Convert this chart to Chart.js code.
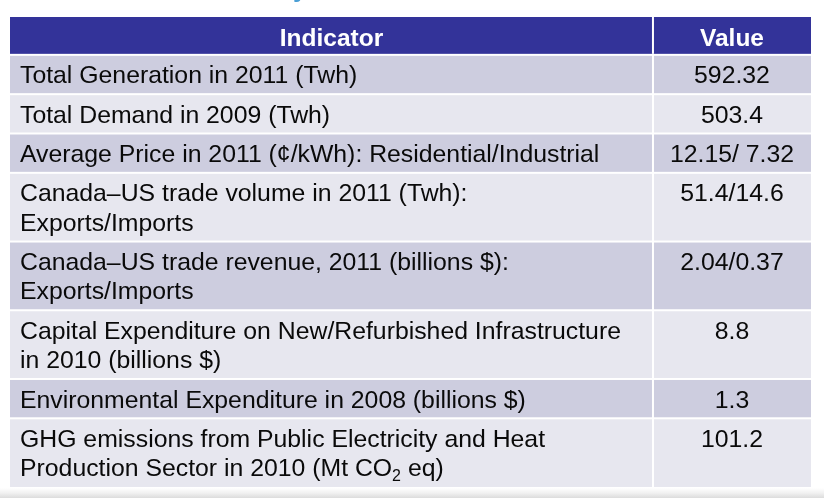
<!DOCTYPE html>
<html><head><meta charset="utf-8">
<script src="https://cdn.jsdelivr.net/npm/chart.js@4"></script>
<style>html,body{margin:0;padding:0;background:#fff;overflow:hidden}#wrap{width:824px;height:498px;position:relative}</style>
</head><body><div id="wrap"><canvas id="c" width="824" height="498"></canvas></div>
<script>
// ---- data ----
const headers = ['Indicator', 'Value'];
const indicators = [
  ['Total Generation in 2011 (Twh)'],
  ['Total Demand in 2009 (Twh)'],
  ['Average Price in 2011 (¢/kWh): Residential/Industrial'],
  ['Canada–US trade volume in 2011 (Twh):', 'Exports/Imports'],
  ['Canada–US trade revenue, 2011 (billions $):', 'Exports/Imports'],
  ['Capital Expenditure on New/Refurbished Infrastructure', 'in 2010 (billions $)'],
  ['Environmental Expenditure in 2008 (billions $)'],
  ['GHG emissions from Public Electricity and Heat', 'Production Sector in 2010 (Mt CO₂ eq)']
];
const values = ['592.32', '503.4', '12.15/ 7.32', '51.4/14.6', '2.04/0.37', '8.8', '1.3', '101.2'];

// ---- layout (units of the y scale) ----
const HEADER_H = 38, PAD = 5, LINE = 29.5;
const COL_SPLIT = 0.8027;
const rowH = indicators.map(l => PAD * 2 + LINE * l.length);
const rowTop = [];
let acc = HEADER_H;
rowH.forEach(h => { rowTop.push(acc); acc += h; });
const TOTAL = acc;

const HEAD_BG = '#333399', DARK = '#CDCDDF', LIGHT = '#E7E7EF';
const BODY_FONT = 24.8, HEAD_FONT = 24.5;
const FAMILY = '"Liberation Sans", Arial, sans-serif';

function drawRich(ctx, text, x, yb, size, align) {
  const parts = text.split('₂');
  const subFont = Math.round(size * 0.65) + 'px ' + FAMILY;
  const widths = [];
  let total = 0;
  parts.forEach((p, i) => {
    ctx.font = size + 'px ' + FAMILY;
    const w = ctx.measureText(p).width; widths.push(w); total += w;
    if (i < parts.length - 1) { ctx.font = subFont; total += ctx.measureText('2').width; }
  });
  let cx = align === 'center' ? x - total / 2 : x;
  ctx.textAlign = 'left';
  parts.forEach((p, i) => {
    ctx.font = size + 'px ' + FAMILY;
    ctx.fillText(p, cx, yb); cx += widths[i];
    if (i < parts.length - 1) {
      ctx.font = subFont; ctx.fillText('2', cx, yb + 5); cx += ctx.measureText('2').width;
    }
  });
}

const tablePlugin = {
  id: 'table',
  beforeDraw(chart) {
    const { ctx, scales: { x, y } } = chart;
    const X0 = x.getPixelForValue(0), X1 = x.getPixelForValue(1), XS = x.getPixelForValue(COL_SPLIT);
    ctx.save();
    ctx.fillStyle = '#fff'; ctx.fillRect(0, 0, chart.width, chart.height);
    // cut-off title descender at top
    ctx.fillStyle = '#4A9FD5'; ctx.font = 'bold 26px ' + FAMILY; ctx.textAlign = 'left';
    ctx.textBaseline = 'alphabetic'; ctx.fillText('y', 293, -3);
    // bottom shadow band
    const yb = y.getPixelForValue(TOTAL);
    const g = ctx.createLinearGradient(0, yb + 1, 0, chart.height);
    g.addColorStop(0, '#ffffff'); g.addColorStop(0.5, '#f1f1f1'); g.addColorStop(1, '#dcdcdc');
    ctx.fillStyle = g; ctx.fillRect(0, yb + 1, chart.width, chart.height - yb - 1);
    // header
    const hT = y.getPixelForValue(0), hB = y.getPixelForValue(HEADER_H);
    ctx.fillStyle = HEAD_BG; ctx.fillRect(X0, hT, X1 - X0, hB - hT);
    // rows
    rowTop.forEach((t, i) => {
      const top = y.getPixelForValue(t), bot = y.getPixelForValue(t + rowH[i]);
      ctx.fillStyle = i % 2 === 0 ? DARK : LIGHT;
      ctx.fillRect(X0, top, X1 - X0, bot - top);
    });
    // white grid lines
    ctx.fillStyle = '#fff';
    rowTop.forEach(t => { const p = y.getPixelForValue(t); ctx.fillRect(X0, p - 1, X1 - X0, 2); });
    ctx.fillRect(XS - 1, hT, 2, hB - hT - 1);
    ctx.fillRect(XS - 1, hB, 2, yb - hB);
    // header text
    ctx.fillStyle = '#fff'; ctx.textBaseline = 'alphabetic'; ctx.textAlign = 'center';
    ctx.font = 'bold ' + HEAD_FONT + 'px ' + FAMILY;
    const hc = (hT + hB) / 2 + 1 + HEAD_FONT * 0.358;
    ctx.fillText(headers[0], (X0 + XS) / 2, hc);
    ctx.fillText(headers[1], (XS + X1) / 2, hc);
    // body text
    ctx.fillStyle = '#0a0a0a';
    rowTop.forEach((t, i) => {
      indicators[i].forEach((line, k) => {
        const c = y.getPixelForValue(t + PAD + LINE * k + LINE / 2) + BODY_FONT * 0.358;
        drawRich(ctx, line, X0 + 10, c, BODY_FONT, 'left');
      });
      const c0 = y.getPixelForValue(t + PAD + LINE / 2) + BODY_FONT * 0.358;
      drawRich(ctx, values[i], (XS + X1) / 2, c0, BODY_FONT, 'center');
    });
    ctx.restore();
  }
};

new Chart(document.getElementById('c'), {
  type: 'scatter',
  data: { datasets: [{ data: [], pointRadius: 0 }] },
  options: {
    responsive: false, animation: false, devicePixelRatio: 1,
    layout: { padding: { left: 10, right: 13, top: 17, bottom: 11 } },
    plugins: { legend: { display: false }, tooltip: { enabled: false } },
    scales: {
      x: { type: 'linear', min: 0, max: 1, display: false },
      y: { type: 'linear', min: 0, max: TOTAL, reverse: true, display: false }
    }
  },
  plugins: [tablePlugin]
});
</script></body></html>
